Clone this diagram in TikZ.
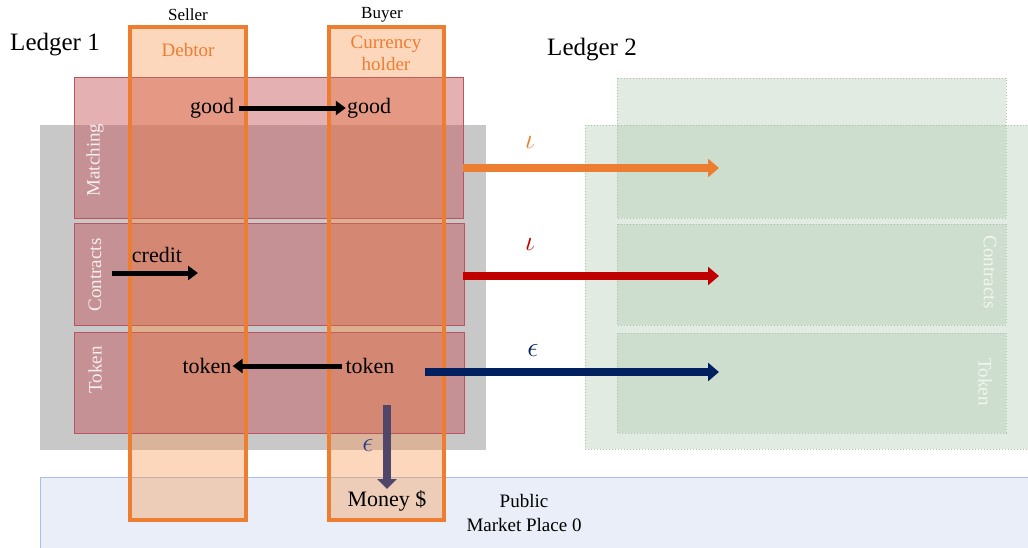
\documentclass[tikz,border=0pt]{standalone}
\usepackage{fix-cm}
\usepackage{fontspec}
\setmainfont{Liberation Serif}
\usetikzlibrary{arrows.meta}
\definecolor{colorange}{RGB}{237,125,49}
\definecolor{colfill}{RGB}{246,150,80}
\definecolor{rowred}{RGB}{195,80,85}
\definecolor{rowedge}{RGB}{185,85,95}
\definecolor{ledgergray}{RGB}{200,200,200}
\definecolor{greenfill}{RGB}{160,190,160}
\definecolor{greenedge}{RGB}{175,190,175}
\definecolor{mktfill}{RGB}{233,238,248}
\definecolor{mktedge}{RGB}{170,190,225}
\definecolor{arrred}{RGB}{192,0,0}
\definecolor{arrblue}{RGB}{0,32,96}
\definecolor{epsblue}{RGB}{40,60,140}
\definecolor{downarr}{RGB}{80,70,105}
\tikzset{
  fs/.style={font=\fontsize{#1}{#1}\selectfont},
  rowbox/.style={fill=rowred, fill opacity=0.45, draw=rowedge, line width=0.8pt},
  greenbox/.style={fill=greenfill, fill opacity=0.3, draw=greenedge, dotted, line width=1pt},
  colbox/.style={draw=colorange, line width=4pt},
  bigarrow/.style={line width=8.5pt, -{Triangle[length=11pt,width=18pt]}},
  blackarrow/.style={draw=black, line width=5pt, -{Triangle[length=10pt,width=14pt]}},
  sidelabel/.style={fs=19, text=white, text opacity=0.85},
  ltext/.style={fs=22, text=black, inner sep=1pt},
  greek/.style={font=\fontsize{28}{28}\selectfont},
}
\begin{document}
\begin{tikzpicture}[x=1pt,y=-1pt]
\useasboundingbox (0,0) rectangle (1028,547);
\clip (0,0) rectangle (1028,547);
% public market place
\draw[fill=mktfill, draw=mktedge, line width=1pt] (40,477) rectangle (1040,560);
% ledger 1 gray
\fill[ledgergray] (40,125) rectangle (486,450);
% ledger 2
\path[greenbox] (585,125) rectangle (1040,449);
\path[greenbox] (617,78) rectangle (1006,218);
\path[greenbox] (617,224) rectangle (1006,325);
\path[greenbox] (617,333) rectangle (1006,433);
% column fills
\fill[colfill, opacity=0.38] (130,27) rectangle (246,520);
\fill[colfill, opacity=0.38] (329,27) rectangle (444,520);
% pink rows
\path[rowbox] (74,77) rectangle (463,218);
\path[rowbox] (74,223) rectangle (464,325);
\path[rowbox] (74,332) rectangle (464,433);
% orange tint of the columns over the rows
\fill[colfill, opacity=0.15] (130,77) rectangle (246,433);
\fill[colfill, opacity=0.15] (329,77) rectangle (444,433);
% column borders
\draw[colbox] (130,27) rectangle (246,520);
\draw[colbox] (329,27) rectangle (444,520);

% headers
\node[fs=25] (l1) at (55,45) {Ledger 1};
\node[fs=25] (l2) at (592,50) {Ledger 2};
\node[fs=17] (seller) at (188,15) {Seller};
\node[fs=17] (buyer) at (382,15) {Buyer};
\node[fs=19, text=colorange] (debtor) at (188,50) {Debtor};
\node[fs=19, text=colorange, align=center] (curr) at (386,53) {Currency\\[3pt]holder};

% side labels
\node[sidelabel, rotate=90] (m1) at (95,160) {Matching};
\node[sidelabel, rotate=90] (c1) at (95,275) {Contracts};
\node[sidelabel, rotate=90] (t1) at (95,370) {Token};
\node[sidelabel, rotate=-90, text opacity=0.7] (c2) at (990,272) {Contracts};
\node[sidelabel, rotate=-90, text opacity=0.7] (t2) at (985,382) {Token};

% inner texts
\node[ltext] (good1) at (212,108) {good};
\node[ltext] (good2) at (369,108) {good};
\node[ltext] (credit) at (157,255) {credit};
\node[ltext] (tok1) at (207,366) {token};
\node[ltext] (tok2) at (370,366) {token};
\node[ltext] (money) at (387,501) {Money \$};
\node[fs=19, align=center] (pub) at (524,513) {Public\\[5pt]Market Place 0};

% arrow end coordinates
\coordinate (cs) at (112,273);
\coordinate (ce) at (198,273);
\coordinate (ds) at (387,405);
\coordinate (de) at (387,489);
\coordinate (a1s) at (463,168);
\coordinate (a1e) at (719,168);
\coordinate (a2s) at (463,276);
\coordinate (a2e) at (719,276);
\coordinate (a3s) at (425,372);
\coordinate (a3e) at (719,372);

% black arrows
\draw[blackarrow] ([xshift=4pt]good1.east) -- (good2.west);
\draw[blackarrow] (cs) -- (ce);
\draw[blackarrow] ([xshift=-2pt]tok2.west) -- (tok1.east);
% down arrow
\draw[draw=downarr, line width=8pt, -{Triangle[length=10pt,width=19pt]}] (ds) -- (de);
\node[greek, text=epsblue] (epsd) at (368,445) {$\epsilon$};
% ledger-to-ledger arrows
\draw[bigarrow, draw=colorange] (a1s) -- (a1e);
\draw[bigarrow, draw=arrred] (a2s) -- (a2e);
\draw[bigarrow, draw=arrblue] (a3s) -- (a3e);
\node[greek, text=colorange] (iota1) at (530,142) {$\iota$};
\node[greek, text=arrred] (iota2) at (530,244) {$\iota$};
\node[greek, text=arrblue] (eps2) at (533,350) {$\epsilon$};
\end{tikzpicture}
\end{document}
